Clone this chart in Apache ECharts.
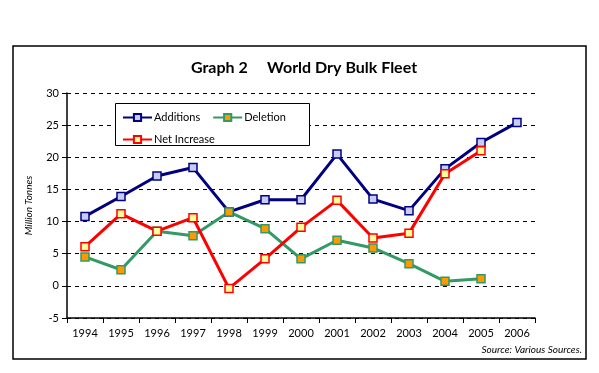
<!DOCTYPE html>
<html><head><meta charset="utf-8">
<script src="https://cdn.jsdelivr.net/npm/echarts@6/dist/echarts.min.js"></script>
<style>html,body{margin:0;padding:0;background:#fff;}#c{width:599px;height:373px;}</style>
</head><body><div id="c"></div>
<script>
const years = ['1994','1995','1996','1997','1998','1999','2000','2001','2002','2003','2004','2005','2006'];
const additions = [10.8, 13.9, 17.1, 18.4, 11.5, 13.4, 13.4, 20.5, 13.5, 11.7, 18.2, 22.3, 25.4];
const deletion = [4.5, 2.5, 8.5, 7.8, 11.5, 8.9, 4.2, 7.1, 5.9, 3.45, 0.7, 1.1, null];
const netIncrease = [6.1, 11.2, 8.5, 10.6, -0.4, 4.2, 9.1, 13.3, 7.45, 8.2, 17.45, 21.0, null];
const yTicks = {min: -5, max: 30, interval: 5};

const font = 'Lato, "Open Sans", sans-serif';
const chart = echarts.init(document.getElementById('c'), null, {renderer: 'canvas'});
function mk(name, data, line, fill) {
  return {
    name, type: 'line', data, symbol: 'rect', symbolSize: 8,
    lineStyle: {color: line, width: 3},
    itemStyle: {color: fill, borderColor: line, borderWidth: 1.5},
    emphasis: {disabled: true}, animation: false, connectNulls: false
  };
}
chart.setOption({
  animation: false,
  textStyle: {fontFamily: font},
  title: {
    text: 'Graph 2     World Dry Bulk Fleet', left: 299, textAlign: 'center', top: 55,
    textStyle: {fontFamily: font, fontSize: 16, fontWeight: 'bold', color: '#000'}
  },
  graphic: [
    {type: 'rect', shape: {x: 13, y: 46, width: 573, height: 313}, style: {fill: 'none', stroke: '#000', lineWidth: 1.5}, silent: true},
    {type: 'rect', shape: {x: 115.5, y: 103.5, width: 194, height: 42}, style: {fill: '#fff', stroke: '#000', lineWidth: 1}, z: 5, silent: true},
    {type: 'text', right: 17, top: 345, style: {text: 'Source: Various Sources.', font: 'italic 10px ' + font, fill: '#000'}}
  ],
  legend: [
    {data: ['Additions', 'Deletion'], left: 117, top: 107, itemWidth: 29, itemHeight: 9, itemGap: 12,
     textStyle: {fontSize: 11, color: '#000', fontFamily: font, padding: [0, 0, 0, -3]}, z: 10, selectedMode: false},
    {data: ['Net Increase'], left: 117, top: 129, itemWidth: 29, itemHeight: 9,
     textStyle: {fontSize: 11, color: '#000', fontFamily: font, padding: [0, 0, 0, -3]}, z: 10, selectedMode: false}
  ],
  grid: {left: 67, right: 64, top: 93, bottom: 55},
  xAxis: {
    type: 'category', data: years, boundaryGap: true,
    axisLine: {onZero: false, lineStyle: {color: '#000', width: 1.5}},
    axisTick: {show: true, length: 5, alignWithLabel: false, lineStyle: {color: '#000'}},
    axisLabel: {color: '#000', fontSize: 11, margin: 10, fontFamily: font},
    splitLine: {show: false}
  },
  yAxis: {
    type: 'value', min: yTicks.min, max: yTicks.max, interval: yTicks.interval,
    name: 'Million Tonnes', nameLocation: 'middle', nameGap: 33, nameRotate: 90,
    nameTextStyle: {fontStyle: 'italic', fontSize: 10, color: '#000', fontFamily: font},
    axisLine: {show: true, lineStyle: {color: '#000', width: 1.5}},
    axisTick: {show: true, length: 5, lineStyle: {color: '#000'}},
    axisLabel: {color: '#000', fontSize: 11, margin: 8, fontFamily: font},
    splitLine: {show: true, lineStyle: {color: '#000', type: [4, 4], width: 1}}
  },
  series: [
    mk('Additions', additions, '#000080', '#C8CCF4'),
    mk('Deletion', deletion, '#339966', '#FF9900'),
    mk('Net Increase', netIncrease, '#FF0000', '#FFFF99')
  ]
});
</script></body></html>
